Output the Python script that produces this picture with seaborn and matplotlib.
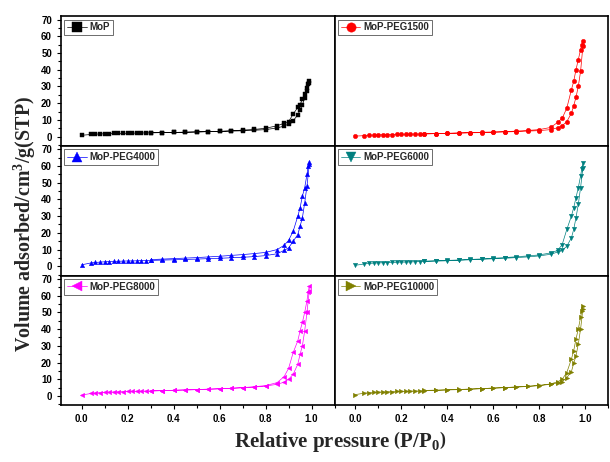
"""
N2 adsorption-desorption isotherms for MoP and MoP-PEG samples (3x2 panels).
Writes out.png.
"""

import numpy as np
import pandas as pd
import matplotlib.pyplot as plt
import seaborn as sns
from matplotlib.ticker import MultipleLocator

sns.set_theme(style="ticks")
plt.rcParams["font.family"] = ["Liberation Sans", "DejaVu Sans"]
plt.rcParams["font.weight"] = "bold"
plt.rcParams["mathtext.fontset"] = "custom"
plt.rcParams["mathtext.rm"] = "Liberation Serif:bold"
plt.rcParams["mathtext.bf"] = "Liberation Serif:bold"
plt.rcParams["mathtext.it"] = "Liberation Serif:bold"

# relative pressure points, adsorption then desorption branch
P_ADS = [0.0, 0.04, 0.06, 0.08, 0.10, 0.12, 0.14, 0.16, 0.18, 0.20, 0.22, 0.24,
         0.26, 0.28, 0.30, 0.35, 0.40, 0.45, 0.50, 0.55, 0.60, 0.65, 0.70, 0.75,
         0.80, 0.85, 0.88, 0.90, 0.92, 0.94, 0.95, 0.96, 0.97, 0.98, 0.99]
P_DES = [0.99, 0.985, 0.98, 0.97, 0.96, 0.95, 0.94, 0.92, 0.90, 0.88, 0.85, 0.80,
         0.75, 0.70, 0.65, 0.60, 0.55, 0.50, 0.45, 0.40, 0.35, 0.30]

MOP_ADS = [0.8, 1.3, 1.5, 1.6, 1.7, 1.8, 1.9, 1.9, 2.0, 2.0, 2.1, 2.1, 2.2, 2.2, 2.3,
           2.4, 2.5, 2.7, 2.8, 3.0, 3.1, 3.3, 3.5, 3.8, 4.2, 5.2, 6.3, 7.5, 9.5, 13.0,
           16.0, 19.0, 23.0, 27.0, 32.0]
MOP_DES = [33.5, 31.5, 29.0, 25.5, 22.5, 19.0, 17.5, 13.5, 9.0, 8.0, 6.5, 5.0, 4.3,
           3.9, 3.5, 3.2, 3.0, 2.8, 2.6, 2.5, 2.4, 2.3]

PEG1500_ADS = [0.3, 0.6, 0.8, 0.9, 1.0, 1.1, 1.1, 1.2, 1.3, 1.3, 1.4, 1.4, 1.5, 1.5,
               1.6, 1.8, 1.9, 2.1, 2.3, 2.4, 2.6, 2.8, 3.0, 3.3, 3.6, 4.2, 5.3, 6.5,
               9.0, 14.0, 18.5, 23.5, 30.0, 39.0, 54.0]
PEG1500_DES = [57.0, 55.0, 52.0, 46.0, 40.0, 33.0, 28.0, 17.0, 11.0, 8.5, 5.5, 4.2,
               3.7, 3.3, 3.0, 2.8, 2.6, 2.4, 2.2, 2.0, 1.8, 1.7]

PEG4000_ADS = [0.9, 2.0, 2.3, 2.5, 2.7, 2.8, 2.9, 3.0, 3.1, 3.2, 3.2, 3.3, 3.4, 3.4,
               3.5, 3.7, 3.9, 4.1, 4.3, 4.6, 4.8, 5.1, 5.4, 5.8, 6.4, 7.5, 9.5, 11.0,
               15.0, 19.0, 24.0, 29.0, 38.0, 48.0, 61.0]
PEG4000_DES = [62.5, 60.0, 55.0, 47.0, 42.0, 35.0, 30.0, 21.0, 15.5, 12.5, 10.0, 8.3,
               7.6, 7.0, 6.5, 6.0, 5.6, 5.2, 4.9, 4.6, 4.3, 4.0]

PEG6000_ADS = [0.6, 1.4, 1.7, 1.9, 2.0, 2.1, 2.2, 2.3, 2.4, 2.5, 2.5, 2.6, 2.7, 2.8,
               2.9, 3.1, 3.3, 3.6, 3.9, 4.2, 4.5, 4.8, 5.2, 5.6, 6.2, 7.2, 8.5, 9.5,
               12.0, 17.0, 22.0, 29.0, 37.0, 47.0, 59.0]
PEG6000_DES = [61.5, 58.0, 54.0, 47.0, 41.0, 35.0, 30.0, 22.0, 13.0, 9.5, 8.0, 6.8,
               6.2, 5.7, 5.2, 4.8, 4.4, 4.1, 3.8, 3.5, 3.3, 3.1]

PEG8000_ADS = [0.5, 1.5, 1.8, 2.0, 2.2, 2.3, 2.4, 2.5, 2.6, 2.7, 2.7, 2.8, 2.9, 2.9,
               3.0, 3.2, 3.4, 3.6, 3.8, 4.1, 4.3, 4.6, 4.9, 5.3, 5.9, 7.0, 8.2, 10.0,
               13.0, 19.0, 25.0, 30.0, 39.0, 50.0, 63.0]
PEG8000_DES = [65.5, 62.0, 57.0, 50.0, 44.0, 39.0, 33.0, 26.0, 16.5, 11.5, 8.0, 6.2,
               5.5, 5.0, 4.6, 4.3, 4.0, 3.8, 3.6, 3.4, 3.2, 3.0]

PEG10000_ADS = [0.8, 1.7, 2.0, 2.2, 2.3, 2.4, 2.5, 2.6, 2.7, 2.8, 2.8, 2.9, 3.0, 3.0,
                3.1, 3.3, 3.6, 3.8, 4.1, 4.4, 4.7, 5.0, 5.3, 5.7, 6.2, 7.0, 7.8, 8.5,
                11.0, 14.5, 19.5, 24.0, 31.0, 40.0, 52.0]
PEG10000_DES = [54.0, 51.0, 47.0, 40.0, 34.0, 27.0, 22.0, 14.0, 10.0, 8.5, 7.2, 6.3,
                5.8, 5.4, 5.0, 4.7, 4.4, 4.1, 3.9, 3.7, 3.5, 3.3]

SAMPLES = ["MoP", "MoP-PEG1500", "MoP-PEG4000", "MoP-PEG6000",
           "MoP-PEG8000", "MoP-PEG10000"]
ADS = [MOP_ADS, PEG1500_ADS, PEG4000_ADS, PEG6000_ADS, PEG8000_ADS, PEG10000_ADS]
DES = [MOP_DES, PEG1500_DES, PEG4000_DES, PEG6000_DES, PEG8000_DES, PEG10000_DES]

COLORS = ["#000000", "#ff0000", "#0000ff", "#008080", "#ff00ff", "#808000"]
MARKERS = ["s", "o", "^", "v", "<", ">"]

rows = []
for name, a, d in zip(SAMPLES, ADS, DES):
    for i, (p, v) in enumerate(zip(P_ADS + P_DES, a + d)):
        rows.append({"sample": name, "step": i, "P": p, "V": v})
df = pd.DataFrame(rows)

fig, axes = plt.subplots(3, 2, figsize=(6.1, 4.62), dpi=100, sharex=True, sharey=True)
fig.subplots_adjust(left=0.1, right=0.997, top=0.965, bottom=0.123,
                    hspace=0, wspace=0)

for k, (ax, name) in enumerate(zip(axes.flat, SAMPLES)):
    sub = df[df["sample"] == name].sort_values("step")
    sns.lineplot(data=sub, x="P", y="V", sort=False, estimator=None,
                 color=COLORS[k], marker=MARKERS[k], markersize=3.2,
                 markeredgecolor=COLORS[k], markeredgewidth=0.3,
                 lw=0.5, label=name, ax=ax)
    ax.legend(loc="upper left", frameon=True, fancybox=False, numpoints=1,
              markerscale=2.1, handlelength=2.0, handletextpad=0.3,
              borderpad=0.3, borderaxespad=0.35, fontsize=7,
              edgecolor="#555555", framealpha=1)
    ax.legend_.get_frame().set_linewidth(0.6)
    ax.set_xlim(-0.09, 1.1)
    ax.set_ylim(-5.5, 72)
    ax.xaxis.set_major_locator(MultipleLocator(0.2))
    ax.xaxis.set_minor_locator(MultipleLocator(0.1))
    ax.yaxis.set_major_locator(MultipleLocator(10))
    ax.yaxis.set_minor_locator(MultipleLocator(5))
    ax.set_xlabel("")
    ax.set_ylabel("")
    for s in ax.spines.values():
        s.set_visible(True)
        s.set_linewidth(1.2)
        s.set_color("black")
    col = k % 2
    row = k // 2
    ax.tick_params(axis="both", which="both", direction="out", labelsize=7,
                   width=0.8, colors="black")
    ax.tick_params(which="major", length=3)
    ax.tick_params(which="minor", length=2)
    if col == 1:
        ax.tick_params(axis="y", which="both", left=False, labelleft=False)
    if row < 2:
        ax.tick_params(axis="x", which="both", bottom=False, labelbottom=False)
    for lab in ax.get_xticklabels() + ax.get_yticklabels():
        lab.set_fontweight("bold")

fig.text(0.04, 0.515, r"Volume adsorbed/cm$^{3}$/g(STP)", rotation=90,
         ha="center", va="center", fontsize=14.4, fontweight="bold",
         family=["Liberation Serif", "DejaVu Serif"])
fig.text(0.557, 0.045, r"Relative pressure $\left(\mathrm{P/P_0}\right)$",
         ha="center", va="center", fontsize=15, fontweight="bold",
         family=["Liberation Serif", "DejaVu Serif"])

fig.savefig("out.png", dpi=100)
